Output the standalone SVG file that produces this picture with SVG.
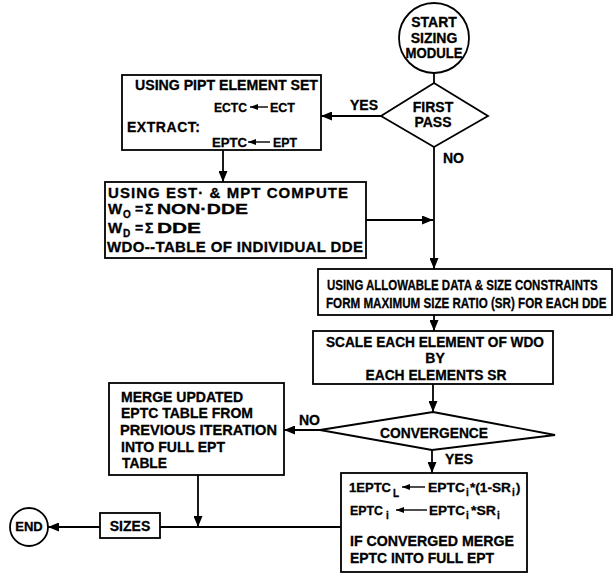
<svg xmlns="http://www.w3.org/2000/svg" width="616" height="576" viewBox="0 0 616 576">
<style>
text{font-family:"Liberation Sans",Arial,sans-serif;font-weight:bold;font-size:14px;fill:#000;stroke:#000;stroke-width:0.3}
.sub{font-size:10px}
.sm{font-size:13px}
.md{font-size:15px}
.c{text-anchor:middle}
.shape{fill:#fff;stroke:#000;stroke-width:1.8}
.ln{fill:none;stroke:#000;stroke-width:1.8}
.tl{fill:none;stroke:#000;stroke-width:1.4}
</style>
<defs>
<marker id="ah" markerWidth="11" markerHeight="9" refX="11" refY="4.5" orient="auto" markerUnits="userSpaceOnUse"><path d="M0,0 L11,4.5 L0,9 z" fill="#000"/></marker>
<marker id="as" markerWidth="8" markerHeight="6" refX="8" refY="3" orient="auto" markerUnits="userSpaceOnUse"><path d="M0,0 L8,3 L0,6 z" fill="#000"/></marker>
</defs>
<rect width="616" height="576" fill="#fff"/>

<g id="connectors">
<path class="ln" d="M434,73 V83"/>
<path class="ln" d="M381,116 H321" marker-end="url(#ah)"/>
<path class="ln" d="M223,150 V182" marker-end="url(#ah)"/>
<path class="ln" d="M434,147 V269" marker-end="url(#ah)"/>
<path class="ln" d="M366,220 H433" marker-end="url(#ah)"/>
<path class="ln" d="M434,315 V331" marker-end="url(#ah)"/>
<path class="ln" d="M433,384 V412" marker-end="url(#ah)"/>
<path class="ln" d="M320,430 H284" marker-end="url(#ah)"/>
<path class="ln" d="M432,450 V473" marker-end="url(#ah)"/>
<path class="ln" d="M198,475 V527" marker-end="url(#ah)"/>
<path class="ln" d="M341,527 H160"/>
<path class="ln" d="M100,527 H48" marker-end="url(#ah)"/>
<text x="350" y="110">YES</text>
<text x="443" y="163">NO</text>
<text x="299" y="425">NO</text>
<text x="445" y="464">YES</text>
</g>

<g id="start">
<circle class="shape" cx="434" cy="38" r="35"/>
<text class="c" x="434" y="27">START</text>
<text class="c" x="434" y="43">SIZING</text>
<text class="c" x="434" y="58" textLength="57" lengthAdjust="spacingAndGlyphs">MODULE</text>
</g>

<g id="first-pass">
<polygon class="shape" points="434,83 488,116 434,147 381,116"/>
<text class="c" x="433" y="112">FIRST</text>
<text class="c" x="433" y="127">PASS</text>
</g>

<g id="extract">
<rect class="shape" x="122" y="75" width="199" height="75"/>
<text x="135" y="90" textLength="183" lengthAdjust="spacingAndGlyphs">USING PIPT ELEMENT SET</text>
<text class="sm" x="214" y="112" textLength="33" lengthAdjust="spacingAndGlyphs">ECTC</text>
<path class="tl" d="M268,107 H250" marker-end="url(#as)"/>
<text class="sm" x="270" y="112" textLength="25" lengthAdjust="spacingAndGlyphs">ECT</text>
<text x="127" y="132" textLength="73" lengthAdjust="spacing">EXTRACT:</text>
<text class="sm" x="212" y="147" textLength="35" lengthAdjust="spacingAndGlyphs">EPTC</text>
<path class="tl" d="M270,142 H248" marker-end="url(#as)"/>
<text class="sm" x="273" y="147" textLength="24" lengthAdjust="spacingAndGlyphs">EPT</text>
</g>

<g id="compute">
<rect class="shape" x="105" y="182" width="261" height="76"/>
<text class="md" x="108" y="198" textLength="240" lengthAdjust="spacing">USING EST· &amp; MPT COMPUTE</text>
<text class="md" x="108" y="214">W</text>
<text class="sub" x="123" y="218">O</text>
<text x="135" y="214">=</text>
<text x="145" y="214">Σ</text>
<text class="md" x="157" y="214" textLength="91" lengthAdjust="spacingAndGlyphs">NON·DDE</text>
<text class="md" x="108" y="233">W</text>
<text class="sub" x="123" y="237">D</text>
<text x="135" y="233">=</text>
<text x="145" y="233">Σ</text>
<text class="md" x="157" y="233" textLength="44" lengthAdjust="spacingAndGlyphs">DDE</text>
<text class="md" x="107" y="252" textLength="256" lengthAdjust="spacing">WDO--TABLE OF INDIVIDUAL DDE</text>
</g>

<g id="size-ratio">
<rect class="shape" x="318" y="269" width="294" height="46"/>
<text transform="translate(327,290) scale(0.765,1)" style="font-size:15px">USING ALLOWABLE DATA &amp; SIZE CONSTRAINTS</text>
<text transform="translate(326,308) scale(0.775,1)" style="font-size:15px">FORM MAXIMUM SIZE RATIO (SR) FOR EACH DDE</text>
</g>

<g id="scale">
<rect class="shape" x="313" y="331" width="240" height="53"/>
<text class="c" x="435" y="347" textLength="218" lengthAdjust="spacingAndGlyphs">SCALE EACH ELEMENT OF WDO</text>
<text class="c" x="435" y="363">BY</text>
<text class="c" x="436" y="380" textLength="141" lengthAdjust="spacingAndGlyphs">EACH ELEMENTS SR</text>
</g>

<g id="convergence">
<polygon class="shape" points="433,412 555,435 432,450 320,430"/>
<text class="c" x="434" y="438" textLength="108" lengthAdjust="spacingAndGlyphs">CONVERGENCE</text>
</g>

<g id="merge">
<rect class="shape" x="109" y="383" width="175" height="92"/>
<text x="121" y="402" textLength="122" lengthAdjust="spacingAndGlyphs">MERGE UPDATED</text>
<text x="121" y="418" textLength="132" lengthAdjust="spacingAndGlyphs">EPTC TABLE FROM</text>
<text x="120" y="435" textLength="157" lengthAdjust="spacingAndGlyphs">PREVIOUS ITERATION</text>
<text x="121" y="452" textLength="104" lengthAdjust="spacingAndGlyphs">INTO FULL EPT</text>
<text x="122" y="468" textLength="45" lengthAdjust="spacingAndGlyphs">TABLE</text>
</g>

<g id="update">
<rect class="shape" x="341" y="473" width="186" height="99"/>
<text class="sm" x="349" y="492" textLength="42" lengthAdjust="spacingAndGlyphs">1EPTC</text>
<text class="sub" x="393" y="497">L</text>
<path class="tl" d="M425,487 H402" marker-end="url(#as)"/>
<text class="sm" x="428" y="492" textLength="37" lengthAdjust="spacingAndGlyphs">EPTC</text>
<text class="sub" x="466" y="496">i</text>
<text class="sm" x="470" y="492" textLength="41" lengthAdjust="spacingAndGlyphs">*(1-SR</text>
<text class="sub" x="512" y="496">i</text>
<text class="sm" x="516" y="492">)</text>
<text class="sm" x="350" y="515" textLength="33" lengthAdjust="spacingAndGlyphs">EPTC</text>
<text class="sub" x="386" y="519">i</text>
<path class="tl" d="M427,510 H396" marker-end="url(#as)"/>
<text class="sm" x="429" y="515" textLength="36" lengthAdjust="spacingAndGlyphs">EPTC</text>
<text class="sub" x="466" y="519">i</text>
<text class="sm" x="471" y="515" textLength="25" lengthAdjust="spacingAndGlyphs">*SR</text>
<text class="sub" x="497" y="519">i</text>
<text x="350" y="546" textLength="164" lengthAdjust="spacingAndGlyphs">IF CONVERGED MERGE</text>
<text x="350" y="563" textLength="144" lengthAdjust="spacingAndGlyphs">EPTC INTO FULL EPT</text>
</g>

<g id="sizes">
<rect class="shape" x="100" y="513" width="60" height="25"/>
<text class="c" x="130" y="531">SIZES</text>
</g>

<g id="end">
<circle class="shape" cx="29" cy="527" r="19"/>
<text class="c" x="29" y="531" style="font-size:13px">END</text>
</g>
</svg>
